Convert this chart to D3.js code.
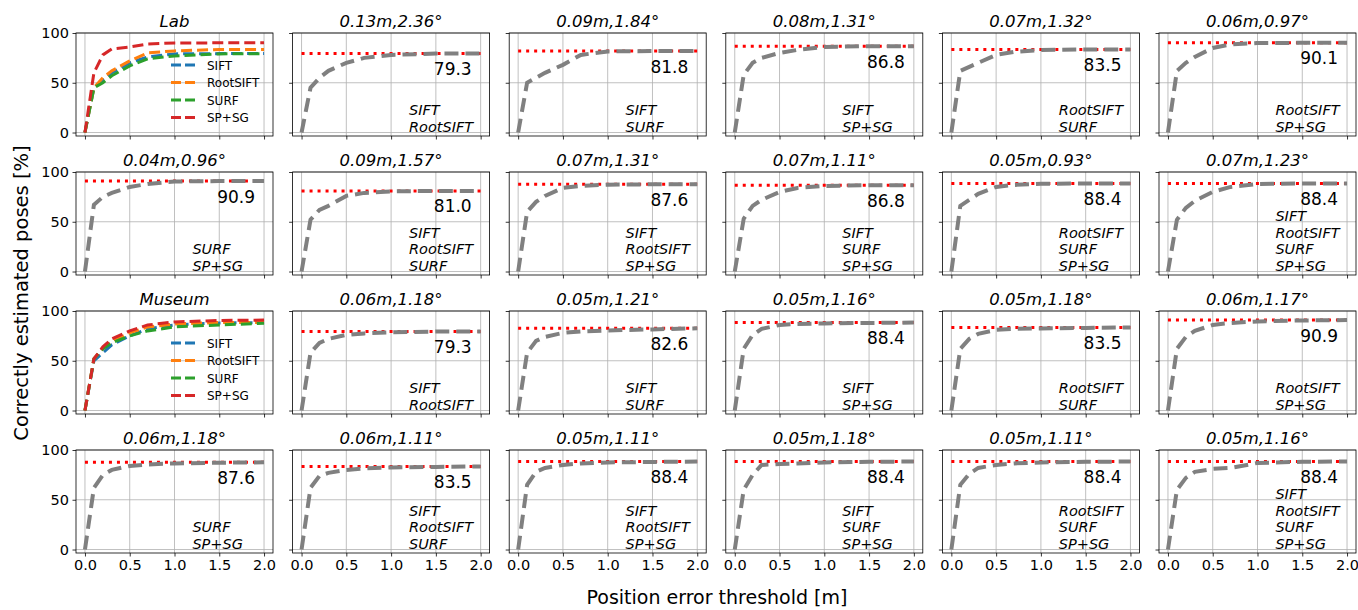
<!DOCTYPE html>
<html>
<head>
<meta charset="utf-8">
<script src="https://cdn.jsdelivr.net/npm/d3@7"></script>
<style>
  body { margin: 0; background: #fff; }
  text { font-family: "DejaVu Sans", sans-serif; }
</style>
</head>
<body>
<div id="chart"></div>
<script>
// Position error thresholds (m) at which the curves are sampled
const thresholds = [0, 0.1, 0.2, 0.3, 0.5, 0.7, 1.0, 1.5, 2.0];

const methodNames = ["SIFT", "RootSIFT", "SURF", "SP+SG"];

// Panels are listed row by row (4 rows x 6 columns)
const panelTitles = [
  "Lab", "0.13m,2.36°", "0.09m,1.84°", "0.08m,1.31°", "0.07m,1.32°", "0.06m,0.97°",
  "0.04m,0.96°", "0.09m,1.57°", "0.07m,1.31°", "0.07m,1.11°", "0.05m,0.93°", "0.07m,1.23°",
  "Museum", "0.06m,1.18°", "0.05m,1.21°", "0.05m,1.16°", "0.05m,1.18°", "0.06m,1.17°",
  "0.06m,1.18°", "0.06m,1.11°", "0.05m,1.11°", "0.05m,1.18°", "0.05m,1.11°", "0.05m,1.16°"
];

const finalValues = [
  null, 79.3, 81.8, 86.8, 83.5, 90.1,
  90.9, 81.0, 87.6, 86.8, 88.4, 88.4,
  null, 79.3, 82.6, 88.4, 83.5, 90.9,
  87.6, 83.5, 88.4, 88.4, 88.4, 88.4
];

const panelMethods = [
  null, ["SIFT", "RootSIFT"], ["SIFT", "SURF"], ["SIFT", "SP+SG"], ["RootSIFT", "SURF"], ["RootSIFT", "SP+SG"],
  ["SURF", "SP+SG"], ["SIFT", "RootSIFT", "SURF"], ["SIFT", "RootSIFT", "SP+SG"], ["SIFT", "SURF", "SP+SG"],
  ["RootSIFT", "SURF", "SP+SG"], ["SIFT", "RootSIFT", "SURF", "SP+SG"],
  null, ["SIFT", "RootSIFT"], ["SIFT", "SURF"], ["SIFT", "SP+SG"], ["RootSIFT", "SURF"], ["RootSIFT", "SP+SG"],
  ["SURF", "SP+SG"], ["SIFT", "RootSIFT", "SURF"], ["SIFT", "RootSIFT", "SP+SG"], ["SIFT", "SURF", "SP+SG"],
  ["RootSIFT", "SURF", "SP+SG"], ["SIFT", "RootSIFT", "SURF", "SP+SG"]
];

// Combined-method curves (gray), percent of correctly estimated poses
const grayCurves = [
  null,
  [0, 45, 55, 62, 70, 75, 78, 79.3, 79.3],
  [0, 50, 55, 60, 68, 78, 81.5, 81.8, 81.8],
  [0, 58, 70, 75, 80, 83, 86, 86.8, 86.8],
  [0, 62, 66, 70, 78, 81, 83, 83.5, 83.5],
  [0, 62, 70, 76, 85, 88.5, 90, 90.1, 90.1],
  [0, 67, 75, 79, 85, 88, 90.5, 90.9, 90.9],
  [0, 52, 62, 66, 76, 79, 80.5, 81, 81],
  [0, 60, 70, 76, 84, 86, 87.3, 87.6, 87.6],
  [0, 53, 66, 72, 80, 84, 86, 86.8, 86.8],
  [0, 66, 72, 78, 85, 87, 88.2, 88.4, 88.4],
  [0, 52, 64, 71, 80, 85, 88, 88.4, 88.4],
  null,
  [0, 58, 68, 72, 76, 77.5, 78.5, 79.3, 79.3],
  [0, 58, 70, 74, 78, 79.5, 80.5, 81.5, 82.6],
  [0, 62, 76, 82, 86, 87, 87.5, 88, 88.4],
  [0, 62, 72, 77, 81, 82, 82.5, 83, 83.5],
  [0, 62, 74, 80, 86, 88, 89.5, 90.5, 90.9],
  [0, 62, 75, 80, 84, 85.5, 86.5, 87.2, 87.6],
  [0, 62, 74, 77, 80, 81.5, 82.5, 83, 83.5],
  [0, 65, 78, 82, 85, 86.5, 87.5, 88, 88.4],
  [0, 60, 75, 85, 86, 86.5, 87.5, 88.2, 88.4],
  [0, 65, 76, 82, 85, 86.5, 87.5, 88.2, 88.4],
  [0, 60, 72, 78, 81, 82, 87, 88.2, 88.4]
];

// Single-method curves for the Lab and Museum panels (same order as methodNames)
const labCurves = [
  [0, 45, 53, 60, 70, 76, 79, 79.3, 79.3],
  [0, 45, 55, 62, 72, 80, 82, 83.5, 83.5],
  [0, 45, 50, 57, 67, 74, 77, 79, 79.3],
  [0, 60, 78, 84, 86, 89, 90, 90.1, 90.1]
];
const museumCurves = [
  [0, 50, 58, 66, 75, 82, 86, 88, 88.4],
  [0, 52, 62, 70, 78, 84, 87, 88.4, 88.4],
  [0, 52, 62, 68, 75, 80, 84, 86, 87.6],
  [0, 52, 64, 72, 80, 86, 89, 90.5, 90.9]
];

const xTicks = [0, 0.5, 1.0, 1.5, 2.0];
const yTicks = [0, 50, 100];

// Layout
const width = 1358, height = 610;
const nCols = 6, nRows = 4;
const panelW = 197, panelH = 103;
const left0 = 76, colStep = 216.6;
const top0 = 33, rowStep = 139;

const svg = d3.select("#chart")
  .append("svg")
  .attr("width", width)
  .attr("height", height);

const xScale = d3.scaleLinear().domain([-0.1, 2.1]).range([0, panelW]);
const yScale = d3.scaleLinear().domain([-3.5, 100]).range([panelH, 0]);
const colorScale = d3.scaleOrdinal(methodNames, d3.schemeCategory10);

const line = d3.line()
  .x((d, i) => xScale(thresholds[i]))
  .y(d => yScale(d));

panelTitles.forEach((title, idx) => {
  const row = Math.floor(idx / nCols), col = idx % nCols;
  const g = svg.append("g")
    .attr("transform", `translate(${left0 + col * colStep},${top0 + row * rowStep})`);

  // grid
  g.selectAll(".gx").data(xTicks).join("line")
    .attr("x1", d => xScale(d)).attr("x2", d => xScale(d))
    .attr("y1", 0).attr("y2", panelH)
    .attr("stroke", "#b0b0b0").attr("stroke-width", 0.8);
  g.selectAll(".gy").data(yTicks).join("line")
    .attr("class", "gy")
    .attr("x1", 0).attr("x2", panelW)
    .attr("y1", d => yScale(d)).attr("y2", d => yScale(d))
    .attr("stroke", "#b0b0b0").attr("stroke-width", 0.8);

  // axes (labels only on the outer panels)
  const xAxis = d3.axisBottom(xScale).tickValues(xTicks).tickSize(3.5).tickPadding(3.5)
    .tickFormat(row === nRows - 1 ? d3.format(".1f") : "");
  const yAxis = d3.axisLeft(yScale).tickValues(yTicks).tickSize(3.5).tickPadding(3.5)
    .tickFormat(col === 0 ? d3.format("d") : "");
  const ax = g.append("g").attr("transform", `translate(0,${panelH})`).call(xAxis);
  const ay = g.append("g").call(yAxis);
  [ax, ay].forEach(a => {
    a.select(".domain").remove();
    a.selectAll("line").attr("stroke", "#000").attr("stroke-width", 0.8);
    a.selectAll("text").attr("font-size", 14.5).attr("fill", "#000")
      .style("font-family", "DejaVu Sans");
  });

  if (grayCurves[idx]) {
    const v = finalValues[idx];
    // reference level (red dotted)
    g.append("line")
      .attr("x1", xScale(0)).attr("x2", xScale(2))
      .attr("y1", yScale(v)).attr("y2", yScale(v))
      .attr("stroke", "red").attr("stroke-width", 3)
      .attr("stroke-dasharray", "3,5");
    // combined curve
    g.append("path")
      .attr("d", line(grayCurves[idx]))
      .attr("fill", "none")
      .attr("stroke", "gray").attr("stroke-width", 4)
      .attr("stroke-dasharray", "14,7");

    g.append("text")
      .attr("x", xScale(1.9)).attr("y", yScale(v) + 21.5)
      .attr("text-anchor", "end")
      .attr("font-size", 17)
      .text(v.toFixed(1));

    const names = panelMethods[idx];
    g.selectAll(".mname").data(names).join("text")
      .attr("x", xScale(1.2))
      .attr("y", (d, i) => yScale(0) - 1 - (names.length - 1 - i) * 16.5)
      .attr("font-size", 14.5)
      .attr("font-style", "italic")
      .text(d => d);
  } else {
    const curves = row === 0 ? labCurves : museumCurves;
    curves.forEach((c, i) => {
      g.append("path")
        .attr("d", line(c))
        .attr("fill", "none")
        .attr("stroke", colorScale(methodNames[i]))
        .attr("stroke-width", 3)
        .attr("stroke-dasharray", "11,5");
    });

    // legend
    const legend = g.append("g").attr("transform", "translate(95,32)");
    methodNames.forEach((m, i) => {
      const lg = legend.append("g").attr("transform", `translate(0,${i * 17.5})`);
      lg.append("line")
        .attr("x1", 0).attr("x2", 25).attr("y1", 0).attr("y2", 0)
        .attr("stroke", colorScale(m)).attr("stroke-width", 3)
        .attr("stroke-dasharray", "10,4");
      lg.append("text")
        .attr("x", 36).attr("y", 4.5)
        .attr("font-size", 12)
        .text(m);
    });
  }

  // frame
  g.append("rect")
    .attr("width", panelW).attr("height", panelH)
    .attr("fill", "none").attr("stroke", "#000").attr("stroke-width", 0.8);

  g.append("text")
    .attr("x", panelW / 2).attr("y", -6)
    .attr("text-anchor", "middle")
    .attr("font-size", 16.5)
    .attr("font-style", "italic")
    .text(title);
});

svg.append("text")
  .text("Position error threshold [m]")
  .attr("x", 717).attr("y", 604)
  .attr("text-anchor", "middle")
  .attr("font-size", 19);

svg.append("text")
  .text("Correctly estimated poses [%]")
  .attr("transform", "translate(28,293) rotate(-90)")
  .attr("text-anchor", "middle")
  .attr("font-size", 19.5);
</script>
</body>
</html>
